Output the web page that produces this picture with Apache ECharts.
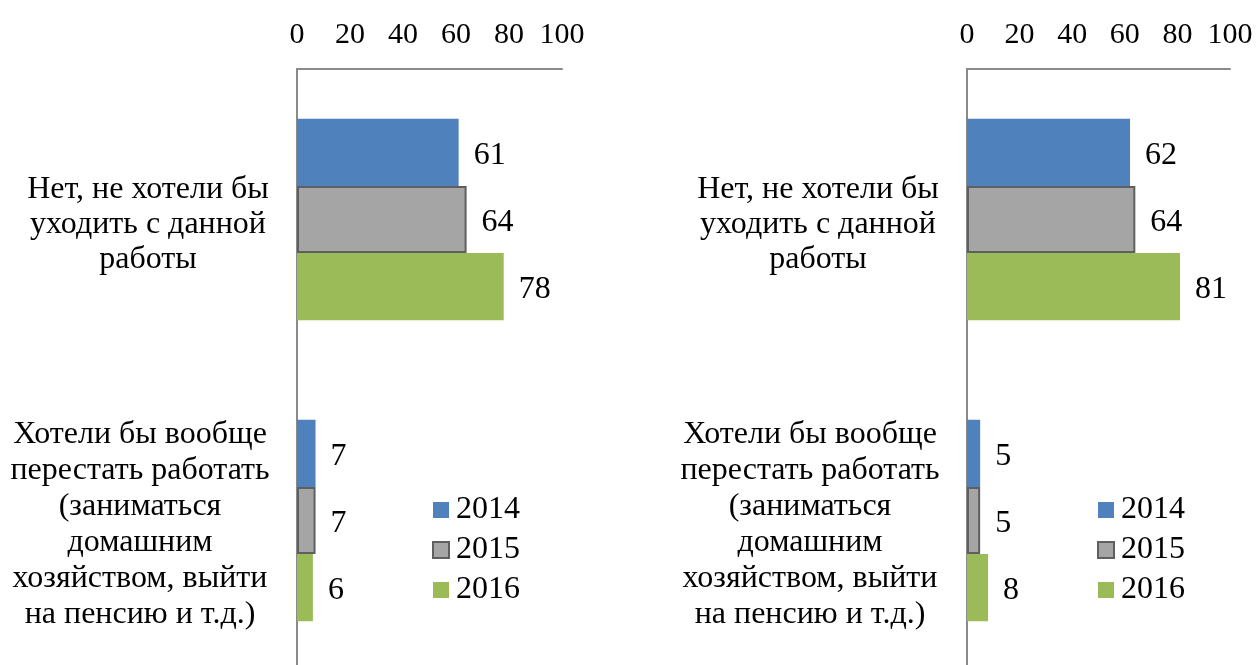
<!DOCTYPE html>
<html>
<head>
<meta charset="utf-8">
<script src="https://cdn.jsdelivr.net/npm/echarts@6/dist/echarts.min.js"></script>
<style>
html,body{margin:0;padding:0;background:#fff;}
#c{width:1257px;height:665px;}
</style>
</head>
<body>
<div id="c"></div>
<script>
var categories = ['Нет, не хотели бы\nуходить с данной\nработы', 'Хотели бы вообще\nперестать работать\n(заниматься\nдомашним\nхозяйством, выйти\nна пенсию и т.д.)'];
var years = ['2014', '2015', '2016'];
var xTicks = [0, 20, 40, 60, 80, 100];
var left2014 = [61, 7];
var left2015 = [64, 7];
var left2016 = [78, 6];
var right2014 = [62, 5];
var right2015 = [64, 5];
var right2016 = [81, 8];

var FONT = "'Liberation Serif', 'Times New Roman', serif";
var colors = ['#4F81BD', '#A5A5A5', '#9BBB59'];
var chart = echarts.init(document.getElementById('c'), null, {renderer: 'canvas'});

function tok(extra) {
  var o = {color: '#000', fontFamily: FONT, fontSize: 32, lineHeight: 35, align: 'center'};
  for (var k in extra) o[k] = extra[k];
  return o;
}

function xAxis(gi) {
  return {
    gridIndex: gi, type: 'value', position: 'top', min: xTicks[0], max: xTicks[xTicks.length - 1], interval: 20,
    axisLine: {show: true, lineStyle: {color: '#8a8a8a', width: 2}},
    axisTick: {show: false}, splitLine: {show: false},
    axisLabel: {color: '#000', fontFamily: FONT, fontSize: 30, margin: 19}
  };
}
function yAxis(gi) {
  return {
    gridIndex: gi, type: 'category', inverse: true,
    data: categories,
    axisLine: {show: true, lineStyle: {color: '#8a8a8a', width: 2}},
    axisTick: {show: false},
    axisLabel: {
      color: '#000', fontFamily: FONT, fontSize: 32, lineHeight: 35, align: 'center', margin: 149, interval: 0,
      formatter: function (v, i) {
        var s = i === 1 ? 'b' : 'a';
        return v.split('\n').map(function (l) {
          return '{' + s + '|' + l + '}';
        }).join('\n');
      },
      rich: {
        a: tok({padding: [10, 0, 0, 0]}),
        b: tok({padding: [8, 16, 0, 0], lineHeight: 36})
      }
    }
  };
}
function series(name, data, gi, idx) {
  var s = {
    name: name, type: 'bar', xAxisIndex: gi, yAxisIndex: gi, data: data,
    barGap: '0%', barCategoryGap: '33%',
    itemStyle: {color: colors[idx]},
    label: {show: true, position: 'right', distance: 15, offset: [0, 3], color: '#000', fontFamily: FONT, fontSize: 32}
  };
  if (idx === 1) { s.itemStyle.borderColor = '#5f5f5f'; s.itemStyle.borderWidth = 2; }
  return s;
}
function legend(left) {
  return {
    orient: 'vertical', left: left, top: 494, data: years, padding: 0,
    icon: 'rect', itemWidth: 16, itemHeight: 16, itemGap: 8,
    textStyle: {color: '#000', fontFamily: FONT, fontSize: 32, lineHeight: 32, padding: [0, 0, 0, 2]}
  };
}

chart.setOption({
  animation: false,
  backgroundColor: '#fff',
  grid: [
    {left: 297, top: 69, width: 265, height: 602, outerBoundsMode: 'none', containLabel: false},
    {left: 967, top: 69, width: 263, height: 602, outerBoundsMode: 'none', containLabel: false}
  ],
  xAxis: [xAxis(0), xAxis(1)],
  yAxis: [yAxis(0), yAxis(1)],
  legend: [legend(432), legend(1097)],
  series: [
    series(years[0], left2014, 0, 0),
    series(years[1], left2015, 0, 1),
    series(years[2], left2016, 0, 2),
    series(years[0], right2014, 1, 0),
    series(years[1], right2015, 1, 1),
    series(years[2], right2016, 1, 2)
  ]
});
</script>
</body>
</html>
